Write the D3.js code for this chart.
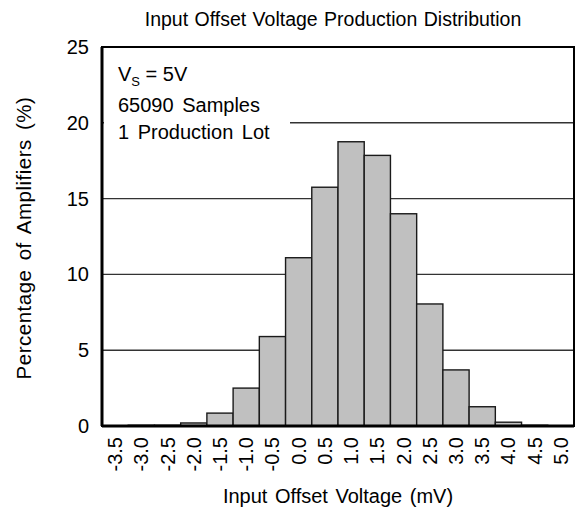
<!DOCTYPE html>
<html><head><meta charset="utf-8">
<script src="https://cdn.jsdelivr.net/npm/d3@7"></script>
<style>body{margin:0;background:#fff}text{font-family:"Liberation Sans",Arial,sans-serif;fill:#000}</style>
</head><body>
<script>
const categories = ["-3.5","-3.0","-2.5","-2.0","-1.5","-1.0","-0.5","0.0","0.5","1.0","1.5","2.0","2.5","3.0","3.5","4.0","4.5","5.0"];
const percentages = [0, 0.05, 0.05, 0.2, 0.85, 2.5, 5.9, 11.1, 15.75, 18.75, 17.85, 14.0, 8.05, 3.7, 1.27, 0.25, 0.05, 0];
const yTicks = [0, 5, 10, 15, 20, 25];
const title = "Input Offset Voltage Production Distribution";
const xTitle = "Input Offset Voltage (mV)";
const yTitle = "Percentage of Amplifiers (%)";

const W = 582, H = 510;
const m = {left: 102, right: 8, top: 47, bottom: 84};
const FF = "Liberation Sans, Arial, sans-serif";
const svg = d3.select("body").append("svg").attr("width", W).attr("height", H);

const x = d3.scaleBand().domain(categories).range([m.left, W - m.right]).padding(0);
const y = d3.scaleLinear().domain([0, 25]).range([H - m.bottom, m.top]);

// gridlines
svg.append("g").selectAll("line").data(yTicks.filter(d => d > 0 && d < 25)).join("line")
  .attr("x1", m.left).attr("x2", W - m.right)
  .attr("y1", d => y(d)).attr("y2", d => y(d))
  .attr("stroke", "#333").attr("stroke-width", 1.4);

// bars
svg.append("g").selectAll("rect").data(percentages).join("rect")
  .attr("x", (d, i) => x(categories[i]))
  .attr("width", x.bandwidth())
  .attr("y", d => y(d))
  .attr("height", d => y(0) - y(d))
  .attr("fill", "#c0c0c0").attr("stroke", "#1a1a1a").attr("stroke-width", 1.4);

// text box
const box = svg.append("g");
box.append("rect").attr("x", m.left + 2).attr("y", m.top + 2).attr("width", 186).attr("height", 88).attr("fill", "#fff");
const vs = box.append("text").attr("x", 118).attr("y", 81).attr("font-size", 20);
vs.append("tspan").text("V");
vs.append("tspan").attr("font-size", 13).attr("dy", 5).text("S");
vs.append("tspan").attr("dy", -5).text(" = 5V");
box.append("text").attr("x", 118).attr("y", 112).attr("font-size", 20).attr("word-spacing", 3).text("65090 Samples");
box.append("text").attr("x", 118).attr("y", 139).attr("font-size", 20).attr("word-spacing", 3).text("1 Production Lot");

// frame
svg.append("rect").attr("x", m.left).attr("y", m.top).attr("width", W - m.left - m.right).attr("height", H - m.top - m.bottom)
  .attr("fill", "none").attr("stroke", "#000").attr("stroke-width", 2);
svg.append("line").attr("x1", m.left).attr("x2", W - m.right).attr("y1", y(0)).attr("y2", y(0)).attr("stroke", "#000").attr("stroke-width", 3);
svg.append("line").attr("x1", m.left).attr("x2", m.left).attr("y1", m.top).attr("y2", y(0)).attr("stroke", "#000").attr("stroke-width", 3);

// y axis
const ya = svg.append("g").attr("transform", `translate(${m.left},0)`)
  .call(d3.axisLeft(y).tickValues(yTicks).tickSize(0).tickPadding(13));
ya.select(".domain").remove();
ya.selectAll("text").attr("font-size", 20).attr("font-family", FF).attr("fill", "#000");

// x axis
const xa = svg.append("g").attr("transform", `translate(0,${y(0)})`)
  .call(d3.axisBottom(x).tickSize(0).tickPadding(0));
xa.select(".domain").remove();
xa.selectAll("text").attr("font-size", 20).attr("font-family", FF).attr("fill", "#000")
  .attr("transform", "translate(0,11) rotate(-90)").attr("text-anchor", "end").attr("dy", "0.35em").attr("x", 0).attr("y", 0);

// titles
svg.append("text").attr("x", 333).attr("y", 26).attr("text-anchor", "middle").attr("font-size", 19.5).attr("word-spacing", 1).text(title);
svg.append("text").attr("x", 338).attr("y", 503).attr("text-anchor", "middle").attr("font-size", 20).attr("word-spacing", 2).text(xTitle);
svg.append("text").attr("transform", `translate(31,238) rotate(-90)`).attr("text-anchor", "middle").attr("font-size", 20.5).attr("letter-spacing", 0.5).attr("word-spacing", 3).text(yTitle);
</script>
</body></html>
